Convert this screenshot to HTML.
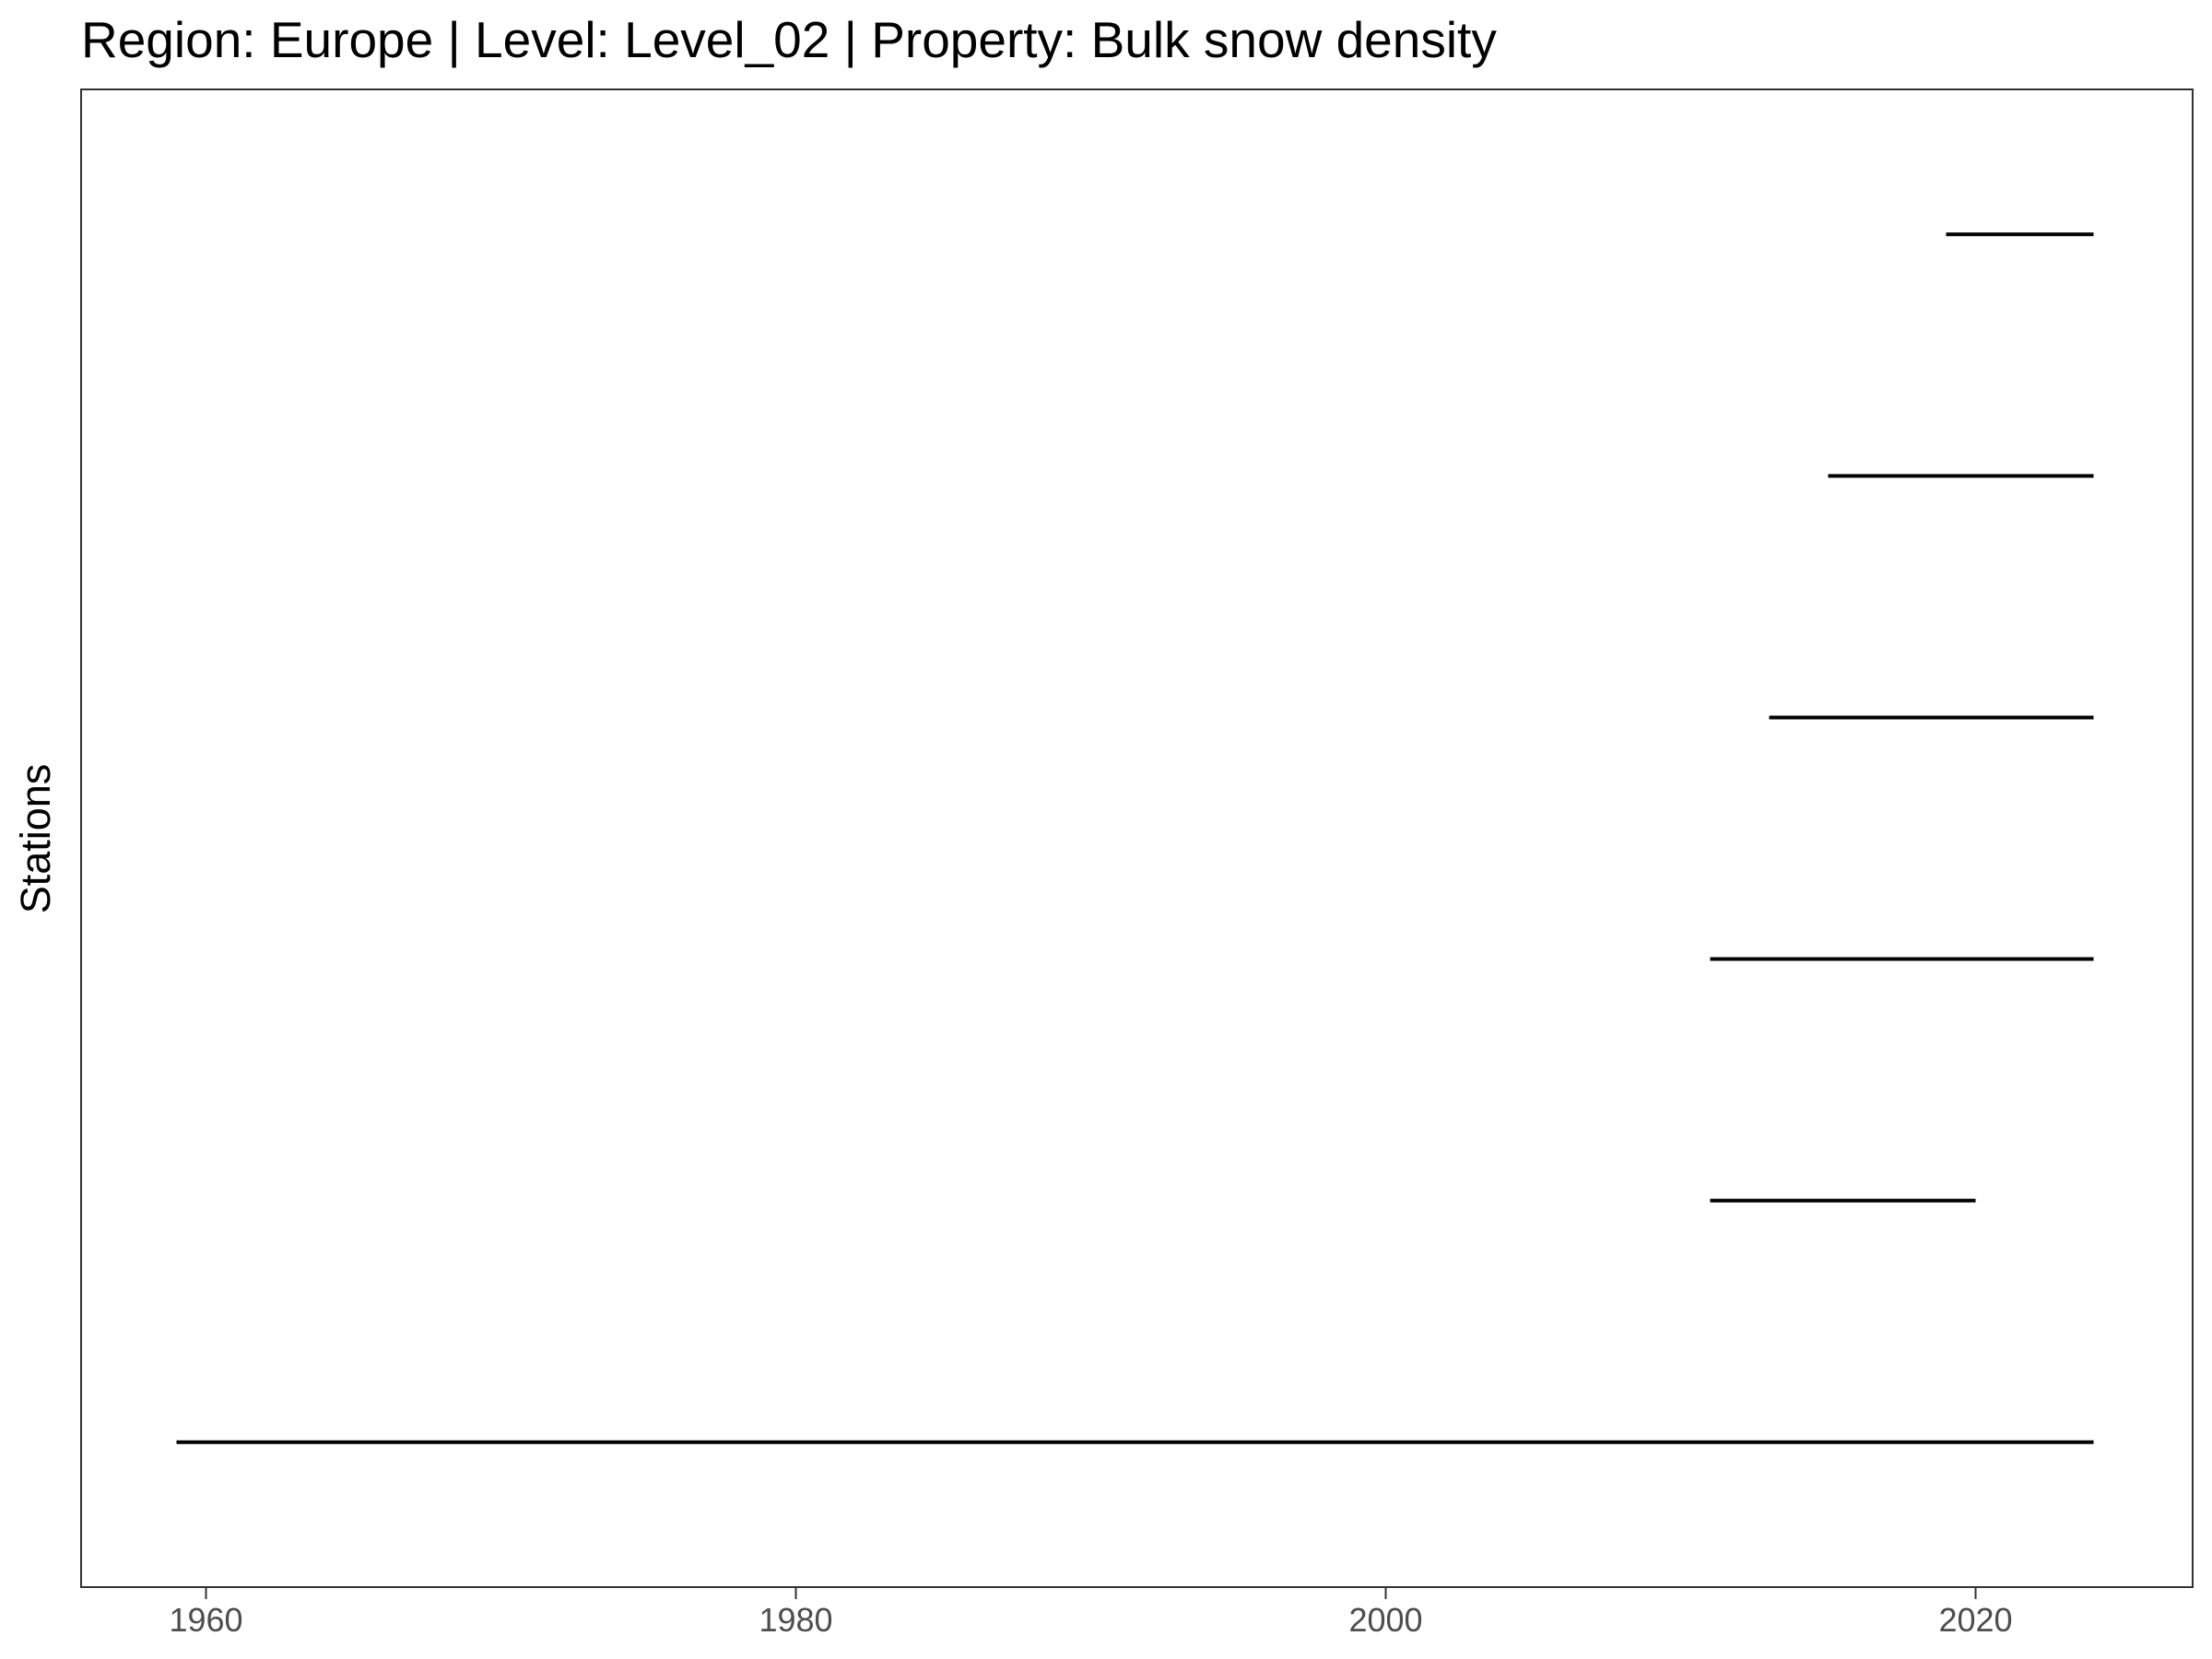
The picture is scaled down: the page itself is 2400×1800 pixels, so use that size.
<!DOCTYPE html>
<html><head><meta charset="utf-8"><style>
html,body{margin:0;padding:0;background:#fff;}
svg{display:block;font-family:"Liberation Sans",Arial,sans-serif;}
</style></head><body>
<svg id="chart" width="2400" height="1800" viewBox="0 0 2400 1800">
<rect x="0" y="0" width="2400" height="1800" fill="#fff"/>
<text x="88" y="62" font-size="55" fill="#000">Region: Europe | Level: Level_02 | Property: Bulk snow density</text>
<text transform="translate(54,910) rotate(-90)" text-anchor="middle" font-size="45" fill="#000">Stations</text>
<g id="marks"></g>
<g id="xaxis"></g>
<rect x="88" y="97" width="2291" height="1625" fill="none" stroke="#333" stroke-width="2"/>
</svg>
<script>
const stationStarts = [1959, 2011, 2011, 2013, 2015, 2019];
const stationEnds = [2024, 2020, 2024, 2024, 2024, 2024];
const tickValues = [1960, 1980, 2000, 2020];
const tickLabels = ["1960", "1980", "2000", "2020"];

const NS = "http://www.w3.org/2000/svg";
function xScale(v){ return 223.5 + (v - 1960) * 32.0; }
function yScale(i){ const top = 97, bottom = 1722, n = stationStarts.length; const step = (bottom - top) / (n - 1 + 1.2); return bottom - (i + 0.6) * step; }

const marks = document.getElementById('marks');
for (let i = 0; i < stationStarts.length; i++) {
  const l = document.createElementNS(NS, 'line');
  l.setAttribute('x1', xScale(stationStarts[i]));
  l.setAttribute('x2', xScale(stationEnds[i]));
  l.setAttribute('y1', yScale(i));
  l.setAttribute('y2', yScale(i));
  l.setAttribute('stroke', '#000');
  l.setAttribute('stroke-width', '4');
  
  
  marks.appendChild(l);
}
const xaxis = document.getElementById('xaxis');
for (let i = 0; i < tickValues.length; i++) {
  const x = xScale(tickValues[i]);
  const t = document.createElementNS(NS, 'line');
  t.setAttribute('x1', x); t.setAttribute('x2', x);
  t.setAttribute('y1', 1722); t.setAttribute('y2', 1735);
  t.setAttribute('stroke', '#333'); t.setAttribute('stroke-width', '2');
  
  
  xaxis.appendChild(t);
  const tx = document.createElementNS(NS, 'text');
  tx.setAttribute('x', x); tx.setAttribute('y', 1770);
  tx.setAttribute('text-anchor', 'middle');
  tx.setAttribute('font-size', '36');
  tx.setAttribute('fill', '#4d4d4d');
  
  
  tx.textContent = tickLabels[i];
  xaxis.appendChild(tx);
}
</script>
</body></html>
